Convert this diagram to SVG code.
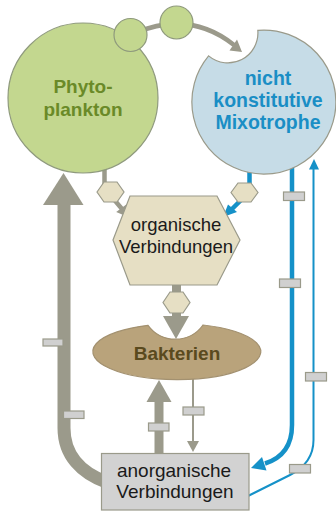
<svg xmlns="http://www.w3.org/2000/svg" width="336" height="511" viewBox="0 0 336 511">
<style>
.g{fill:none;stroke:#9b9a8b}
.gf{fill:#9b9a8b}
.b{fill:none;stroke:#1591c8}
.bf{fill:#1591c8}
.hex{fill:#e6dfc4;stroke:#9a9a8a;stroke-width:1.2}
.dot{fill:#c3d78f;stroke:#8f9a7d;stroke-width:1.2}
.lab{fill:#d0d0d0;stroke:#9a9a8a;stroke-width:1.2}
.t{font-family:"Liberation Sans",Arial,sans-serif;text-anchor:middle}
.bd{font-weight:bold}
</style>
<g id="connectors">
  <!-- Phyto -> Mixotrophe (top arc) -->
  <path class="g" stroke-width="4.5" d="M135 33 Q190 10 234 45"/>
  <polygon class="gf" points="242,52 229.5,50.5 237,39.5"/>
  <!-- Phyto -> organische -->
  <path class="g" stroke-width="4.5" d="M104.5 160 V186 L111 196 L122 209"/>
  <polygon class="gf" points="128,217 116.2,212.1 126.6,204.3"/>
  <!-- Mixotrophe -> organische -->
  <path class="b" stroke-width="4.5" d="M249.5 165 V188 L242 199 L232 209"/>
  <polygon class="bf" points="223,217 228,204.5 237,212"/>
  <!-- organische -> Bakterien -->
  <path class="g" stroke-width="9" d="M176.5 280 V318"/>
  <polygon class="gf" points="163,316 189,316 176,339"/>
  <!-- Bakterien -> anorganische (thin down) -->
  <path class="g" stroke-width="2" d="M193 378 V443"/>
  <polygon class="gf" points="187,441 199,441 193,452"/>
  <!-- anorganische -> Bakterien (thick up) -->
  <path class="g" stroke-width="9" d="M159 460 V400"/>
  <polygon class="gf" points="146.5,402 171.5,402 159,380"/>
  <!-- anorganische -> Phyto (big return) -->
  <path class="g" stroke-width="13" d="M106 482 C82 473 64 456 64 428 V203"/>
  <polygon class="gf" points="43,205 83.5,205 63.5,173"/>
  <!-- Mixotrophe -> anorganische (thick blue) -->
  <path class="b" stroke-width="4.5" d="M292 165 V425 Q292 455 265 463.5"/>
  <polygon class="bf" points="251,468 262,457 266.5,470.5"/>
  <!-- anorganische -> Mixotrophe (thin blue) -->
  <path class="b" stroke-width="2" d="M248 496 L290 475 Q313.5 463 313.5 440 V167"/>
  <polygon class="bf" points="314,159 309,169.5 319,169.5"/>
</g>
<g id="phytoplankton">
  <circle cx="83" cy="98" r="75" fill="#c3d78f" stroke="#8f9a7d" stroke-width="1.2"/>
  <text class="t bd" x="83" y="93" font-size="19" fill="#6a8a28">Phyto-</text>
  <text class="t bd" x="83" y="116" font-size="19" fill="#6a8a28">plankton</text>
</g>
<g id="mixotrophe">
  <path d="M208.6 55.9 A30 30 0 0 0 257.8 30.3 A72 72 0 1 1 208.6 55.9 Z" fill="#c6dce7" stroke="#9a9a8a" stroke-width="1.2"/>
  <text class="t bd" x="268" y="85" font-size="19.5" fill="#1a8ec5">nicht</text>
  <text class="t bd" x="268" y="107" font-size="19.5" fill="#1a8ec5">konstitutive</text>
  <text class="t bd" x="268" y="129" font-size="19.5" fill="#1a8ec5">Mixotrophe</text>
</g>
<g id="organische">
  <polygon points="113,240 130,196 217,196 240,240 217,285 130,285" fill="#e6dfc4" stroke="#9a9a8a" stroke-width="1.2"/>
  <text class="t" x="176" y="231" font-size="18.5" fill="#1a1a1a">organische</text>
  <text class="t" x="176" y="253" font-size="18.5" fill="#1a1a1a">Verbindungen</text>
</g>
<g id="bakterien">
  <path d="M148 325.3 A34 34 0 0 0 203 325 A84 28 0 1 1 148 325.3 Z" fill="#b9a37b" stroke="#a39170" stroke-width="1.2"/>
  <text class="t bd" x="177" y="360" font-size="19" fill="#5a4a1e">Bakterien</text>
</g>
<g id="anorganische">
  <rect x="101.5" y="453.5" width="147.5" height="56.5" fill="#d2d2d2" stroke="#9a9a8a" stroke-width="1.2"/>
  <text class="t" x="174" y="477" font-size="19" fill="#1a1a1a">anorganische</text>
  <text class="t" x="175" y="498" font-size="19" fill="#1a1a1a">Verbindungen</text>
</g>
<g id="connector-marks">
  <circle class="dot" cx="130.5" cy="35" r="16.5"/>
  <circle class="dot" cx="176.5" cy="22.5" r="16.5"/>
  <polygon class="hex" points="97,192 104,182 117,182 124,192 117,202 104,202"/>
  <polygon class="hex" points="231,192.5 238,183 251,183 258,192.5 251,202 238,202"/>
  <polygon class="hex" points="163,302.5 170,292 183,292 190,302.5 183,313 170,313"/>
  <rect class="lab" x="43" y="339" width="20" height="7"/>
  <rect class="lab" x="63.5" y="411" width="20.5" height="7.5"/>
  <rect class="lab" x="148.5" y="423" width="20.5" height="8"/>
  <rect class="lab" x="183" y="407" width="21" height="8"/>
  <rect class="lab" x="283.5" y="192" width="21" height="8.5"/>
  <rect class="lab" x="279.5" y="279" width="21" height="8.5"/>
  <rect class="lab" x="305.5" y="372.5" width="21" height="8.5"/>
  <rect class="lab" x="289.5" y="464.5" width="21" height="8.5"/>
</g>
</svg>
